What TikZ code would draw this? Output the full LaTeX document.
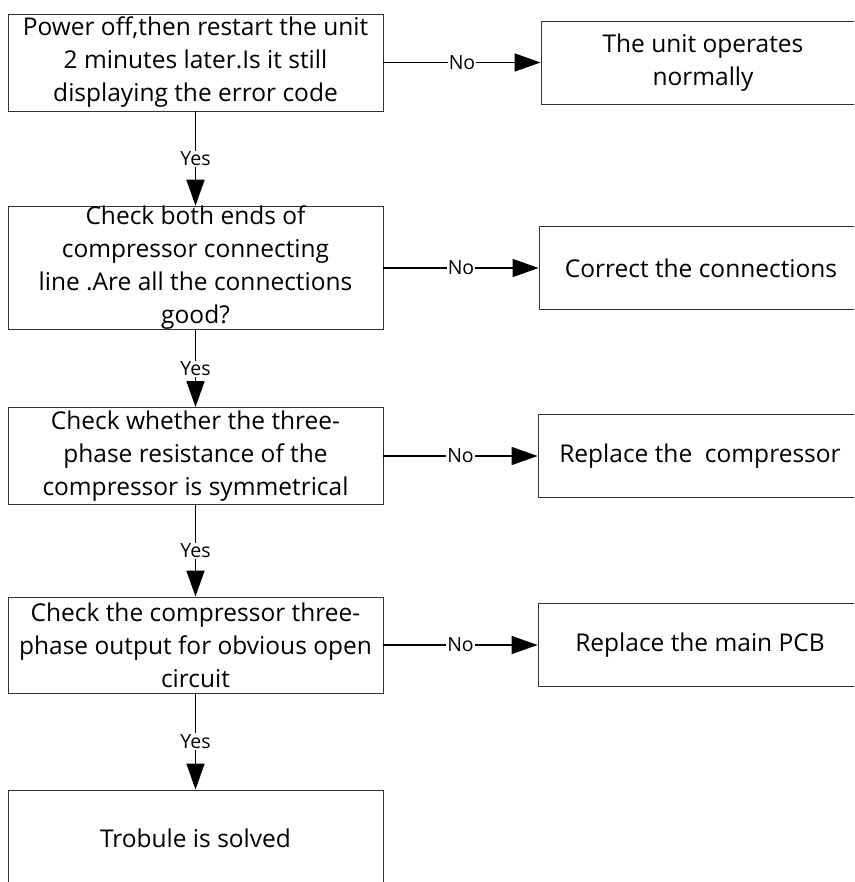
\documentclass[tikz,border=0pt]{standalone}
\usepackage{fontspec}
\setmainfont{Open Sans}
\usetikzlibrary{arrows.meta}

\begin{document}
\begin{tikzpicture}[x=1pt, y=-1pt,
    box/.style={draw=black!80, line width=0.9pt, inner sep=0pt, minimum width=375pt, align=center, font=\fontsize{24.5}{33}\selectfont},
    rbox/.style={draw=black!80, line width=0.9pt, inner sep=0pt, minimum width=324pt, minimum height=83pt, align=center, font=\fontsize{24.5}{33}\selectfont},
    arrow/.style={line width=1.6pt, -{Triangle[length=26pt, width=18pt]}},
    lab/.style={fill=white, inner sep=1pt, font=\fontsize{19.5}{22}\selectfont}]

    % 図の範囲
    \useasboundingbox (0,0) rectangle (854,882);
    \clip (0,0) rectangle (854,882);

    % 左側のノード
    \node[box, minimum height=97pt] (restart) at (195.5, 62.5) {Power off,then restart the unit\\2 minutes later.Is it still\\displaying the error code};
    \node[box, minimum height=122pt] (ends) at (195.5, 268) {Check both ends of\\compressor connecting\\line .Are all the connections\\good?};
    \node[box, minimum height=97pt] (resist) at (195.5, 456) {Check whether the three-\\phase resistance of the\\compressor is symmetrical};
    \node[box, minimum height=96pt] (output) at (195.5, 645) {Check the compressor three-\\phase output for obvious open\\circuit};
    \node[box, minimum height=96pt] (solved) at (195.5, 838) {Trobule is solved};

    % 右側のノード
    \node[rbox] (normal) at (703, 62.5) {The unit operates\\normally};
    \node[rbox] (connect) at (701, 268) {Correct the connections};
    \node[rbox] (compressor) at (700, 456) {Replace the~ compressor};
    \node[rbox] (pcb) at (700, 645) {Replace the main PCB};

    % Yes のエッジ
    \draw[arrow] (restart) -- node[lab] {Yes} (ends);
    \draw[arrow] (ends) -- node[lab] {Yes} (resist);
    \draw[arrow] (resist) -- node[lab] {Yes} (output);
    \draw[arrow] (output) -- node[lab] {Yes} (solved);

    % No のエッジ
    \draw[arrow] (restart) -- node[lab] {No} (normal);
    \draw[arrow] (ends) -- node[lab] {No} (connect);
    \draw[arrow] (resist) -- node[lab] {No} (compressor);
    \draw[arrow] (output) -- node[lab] {No} (pcb);
\end{tikzpicture}
\end{document}
